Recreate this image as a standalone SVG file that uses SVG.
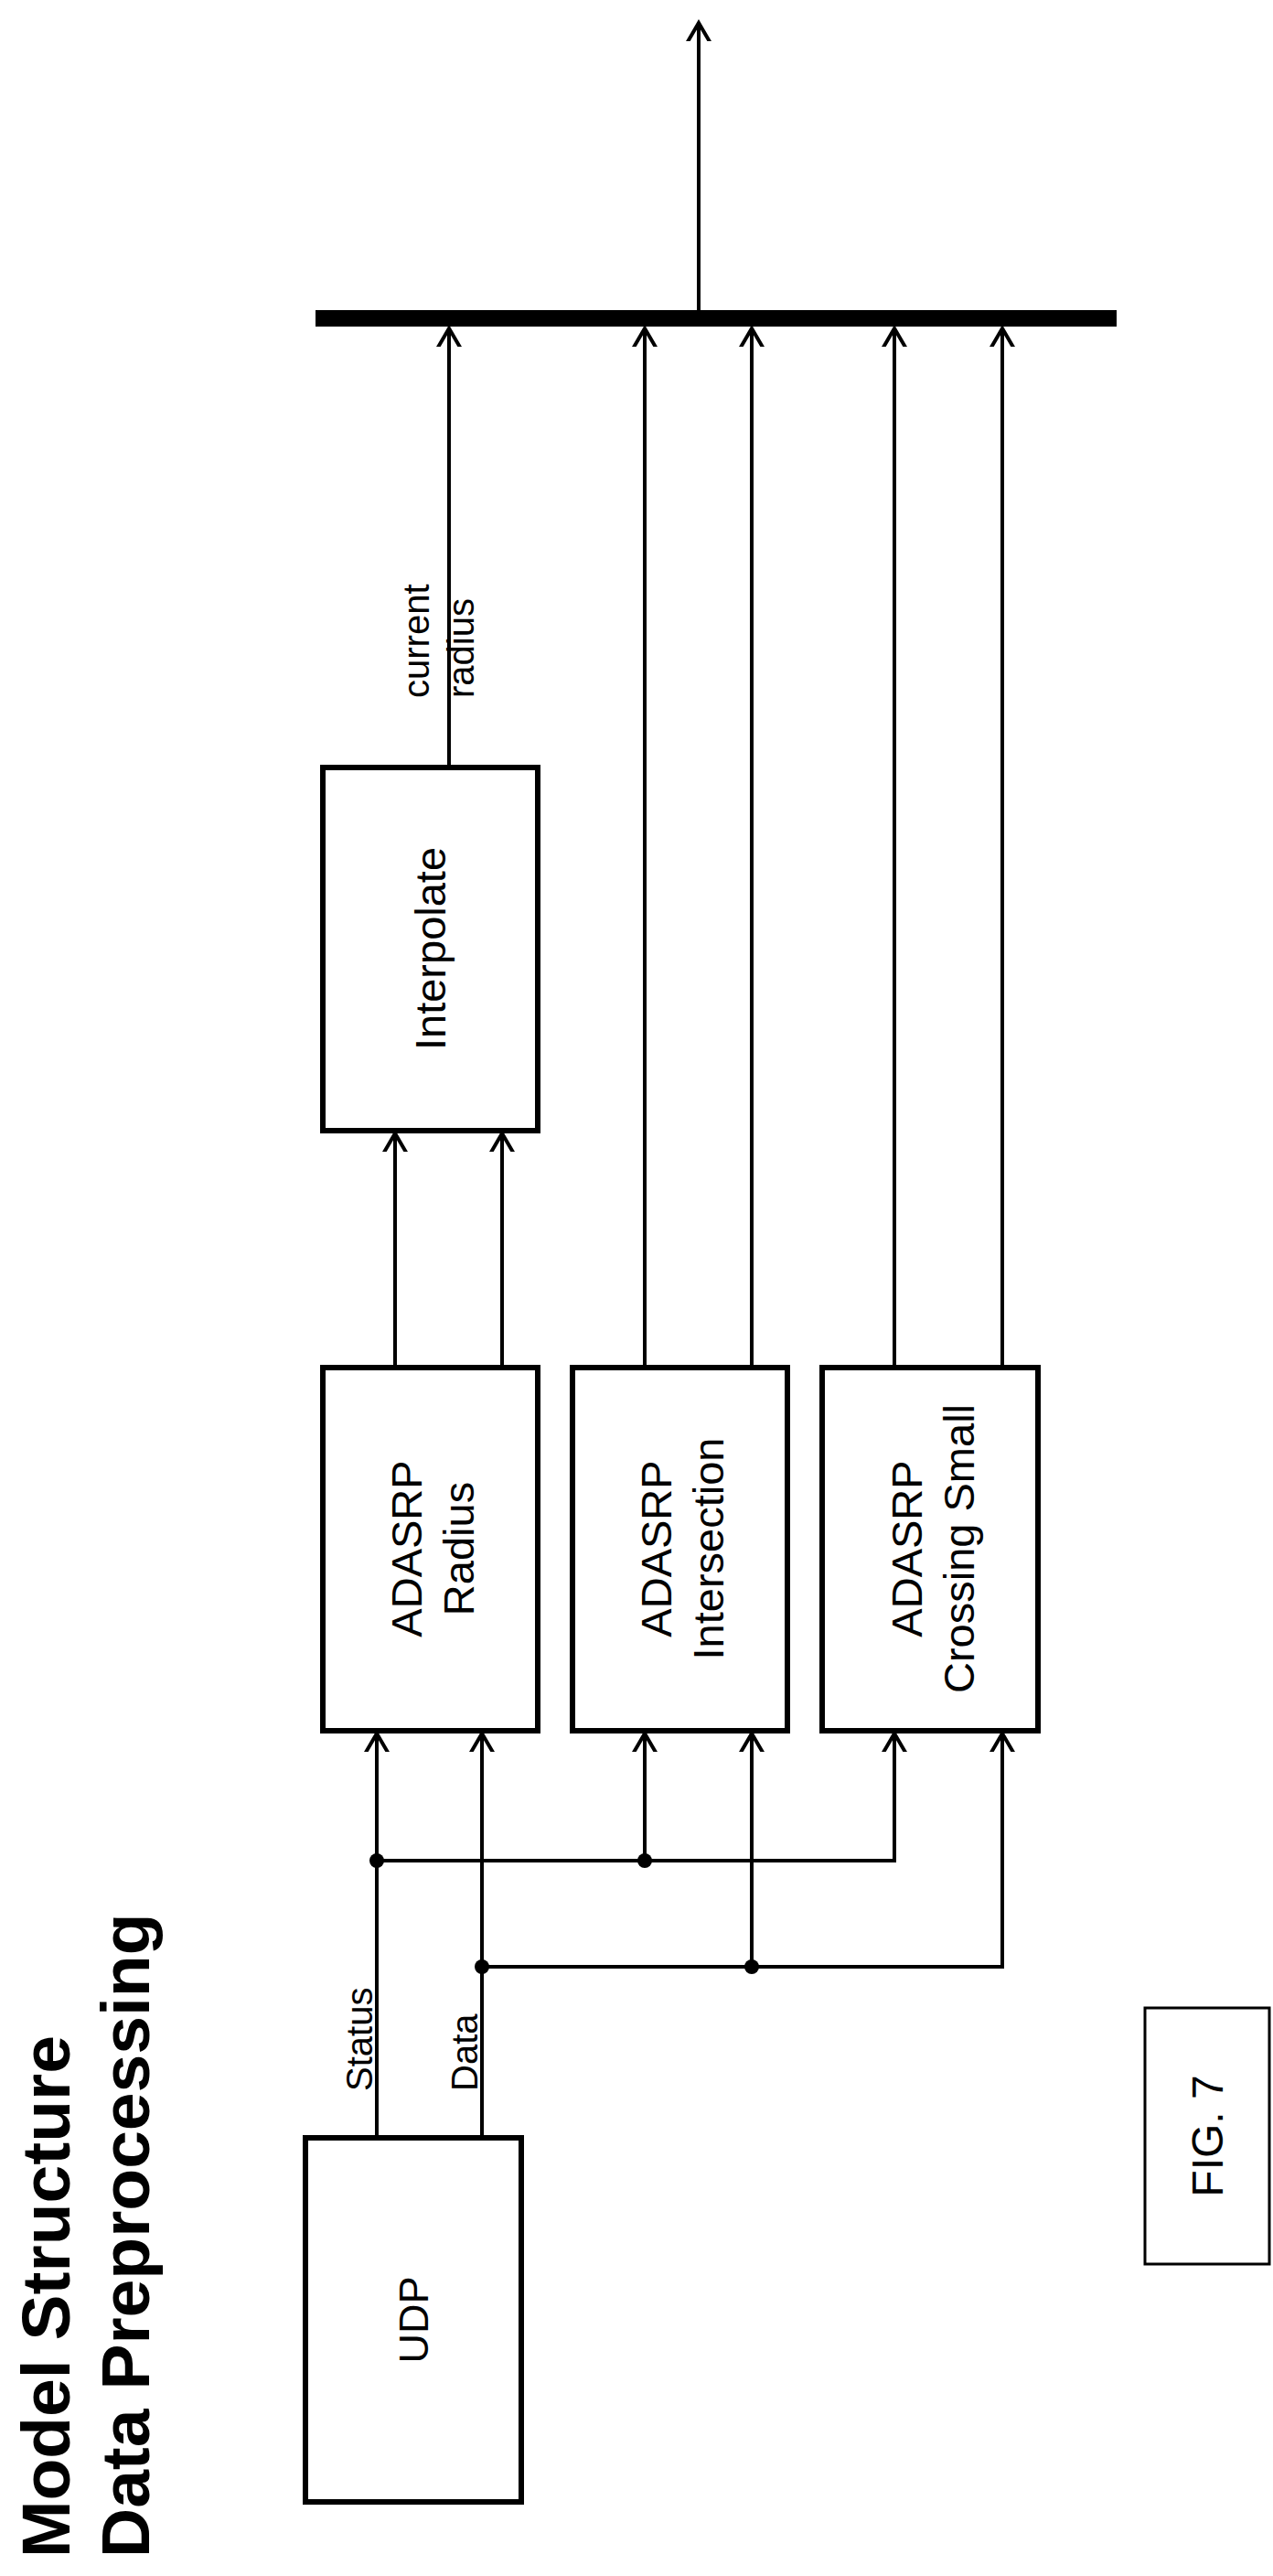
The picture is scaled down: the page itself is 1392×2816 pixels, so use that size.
<svg xmlns="http://www.w3.org/2000/svg" width="1392" height="2816" viewBox="0 0 1392 2816">
<style>
.box{fill:#fff;stroke:#000;stroke-width:6}
.ln{stroke:#000;stroke-width:4;fill:none}
.t{font-family:"Liberation Sans",Arial,sans-serif;fill:#000}
</style>
<defs>
<marker id="ar" markerUnits="userSpaceOnUse" markerWidth="40" markerHeight="40" viewBox="-20 -20 40 40" refX="0" refY="0" orient="auto">
<path d="M-24,-14 L0,0 L-24,14" fill="none" stroke="#000" stroke-width="4"/>
</marker>
</defs>
<rect width="1392" height="2816" fill="#fff"/>
<g id="title">
<text class="t" font-size="75" font-weight="bold" transform="translate(76,2796) rotate(-90)">Model Structure</text>
<text class="t" font-size="75" font-weight="bold" transform="translate(163,2796) rotate(-90)">Data Preprocessing</text>
</g>
<g id="connectors">
<line x1="345" y1="348" x2="1221" y2="348" stroke="#000" stroke-width="18"/>
<line class="ln" x1="764" y1="339" x2="764" y2="25" marker-end="url(#ar)"/>
<line class="ln" x1="491" y1="839" x2="491" y2="359" marker-end="url(#ar)"/>
<line class="ln" x1="705" y1="1495" x2="705" y2="359" marker-end="url(#ar)"/>
<line class="ln" x1="822" y1="1495" x2="822" y2="359" marker-end="url(#ar)"/>
<line class="ln" x1="978" y1="1495" x2="978" y2="359" marker-end="url(#ar)"/>
<line class="ln" x1="1096" y1="1495" x2="1096" y2="359" marker-end="url(#ar)"/>
<line class="ln" x1="432" y1="1495" x2="432" y2="1239" marker-end="url(#ar)"/>
<line class="ln" x1="549" y1="1495" x2="549" y2="1239" marker-end="url(#ar)"/>
<line class="ln" x1="412" y1="2337" x2="412" y2="1895" marker-end="url(#ar)"/>
<line class="ln" x1="527" y1="2337" x2="527" y2="1895" marker-end="url(#ar)"/>
<polyline class="ln" points="412,2034 978,2034 978,1895" marker-end="url(#ar)"/>
<line class="ln" x1="705" y1="2034" x2="705" y2="1895" marker-end="url(#ar)"/>
<polyline class="ln" points="527,2150 1096,2150 1096,1895" marker-end="url(#ar)"/>
<line class="ln" x1="822" y1="2150" x2="822" y2="1895" marker-end="url(#ar)"/>
<circle cx="412" cy="2034" r="8"/>
<circle cx="705" cy="2034" r="8"/>
<circle cx="527" cy="2150" r="8"/>
<circle cx="822" cy="2150" r="8"/>
<text class="t" font-size="40" transform="translate(469,763) rotate(-90)">current</text>
<text class="t" font-size="40" transform="translate(518,763) rotate(-90)">radius</text>
<text class="t" font-size="40" transform="translate(407,2286) rotate(-90)">Status</text>
<text class="t" font-size="40" transform="translate(522,2286) rotate(-90)">Data</text>
</g>
<g id="interpolate">
<rect class="box" x="353" y="839" width="235" height="397"/>
<text class="t" font-size="47" text-anchor="middle" transform="translate(487,1037) rotate(-90)">Interpolate</text>
</g>
<g id="radius">
<rect class="box" x="353" y="1495" width="235" height="397"/>
<text class="t" font-size="47" text-anchor="middle" transform="translate(461,1693) rotate(-90)">ADASRP</text>
<text class="t" font-size="47" text-anchor="middle" transform="translate(518,1693) rotate(-90)">Radius</text>
</g>
<g id="intersection">
<rect class="box" x="626" y="1495" width="235" height="397"/>
<text class="t" font-size="47" text-anchor="middle" transform="translate(734,1693) rotate(-90)">ADASRP</text>
<text class="t" font-size="47" text-anchor="middle" transform="translate(791,1693) rotate(-90)">Intersection</text>
</g>
<g id="crossing">
<rect class="box" x="899" y="1495" width="236" height="397"/>
<text class="t" font-size="47" text-anchor="middle" transform="translate(1008,1693) rotate(-90)">ADASRP</text>
<text class="t" font-size="47" text-anchor="middle" transform="translate(1065,1693) rotate(-90)">Crossing Small</text>
</g>
<g id="udp">
<rect class="box" x="334" y="2337" width="236" height="398"/>
<text class="t" font-size="45" text-anchor="middle" transform="translate(468,2536) rotate(-90)">UDP</text>
</g>
<g id="fig">
<rect x="1252" y="2195" width="136" height="280" fill="none" stroke="#000" stroke-width="3"/>
<text class="t" font-size="48" text-anchor="middle" transform="translate(1337,2335) rotate(-90)">FIG. 7</text>
</g>
</svg>
